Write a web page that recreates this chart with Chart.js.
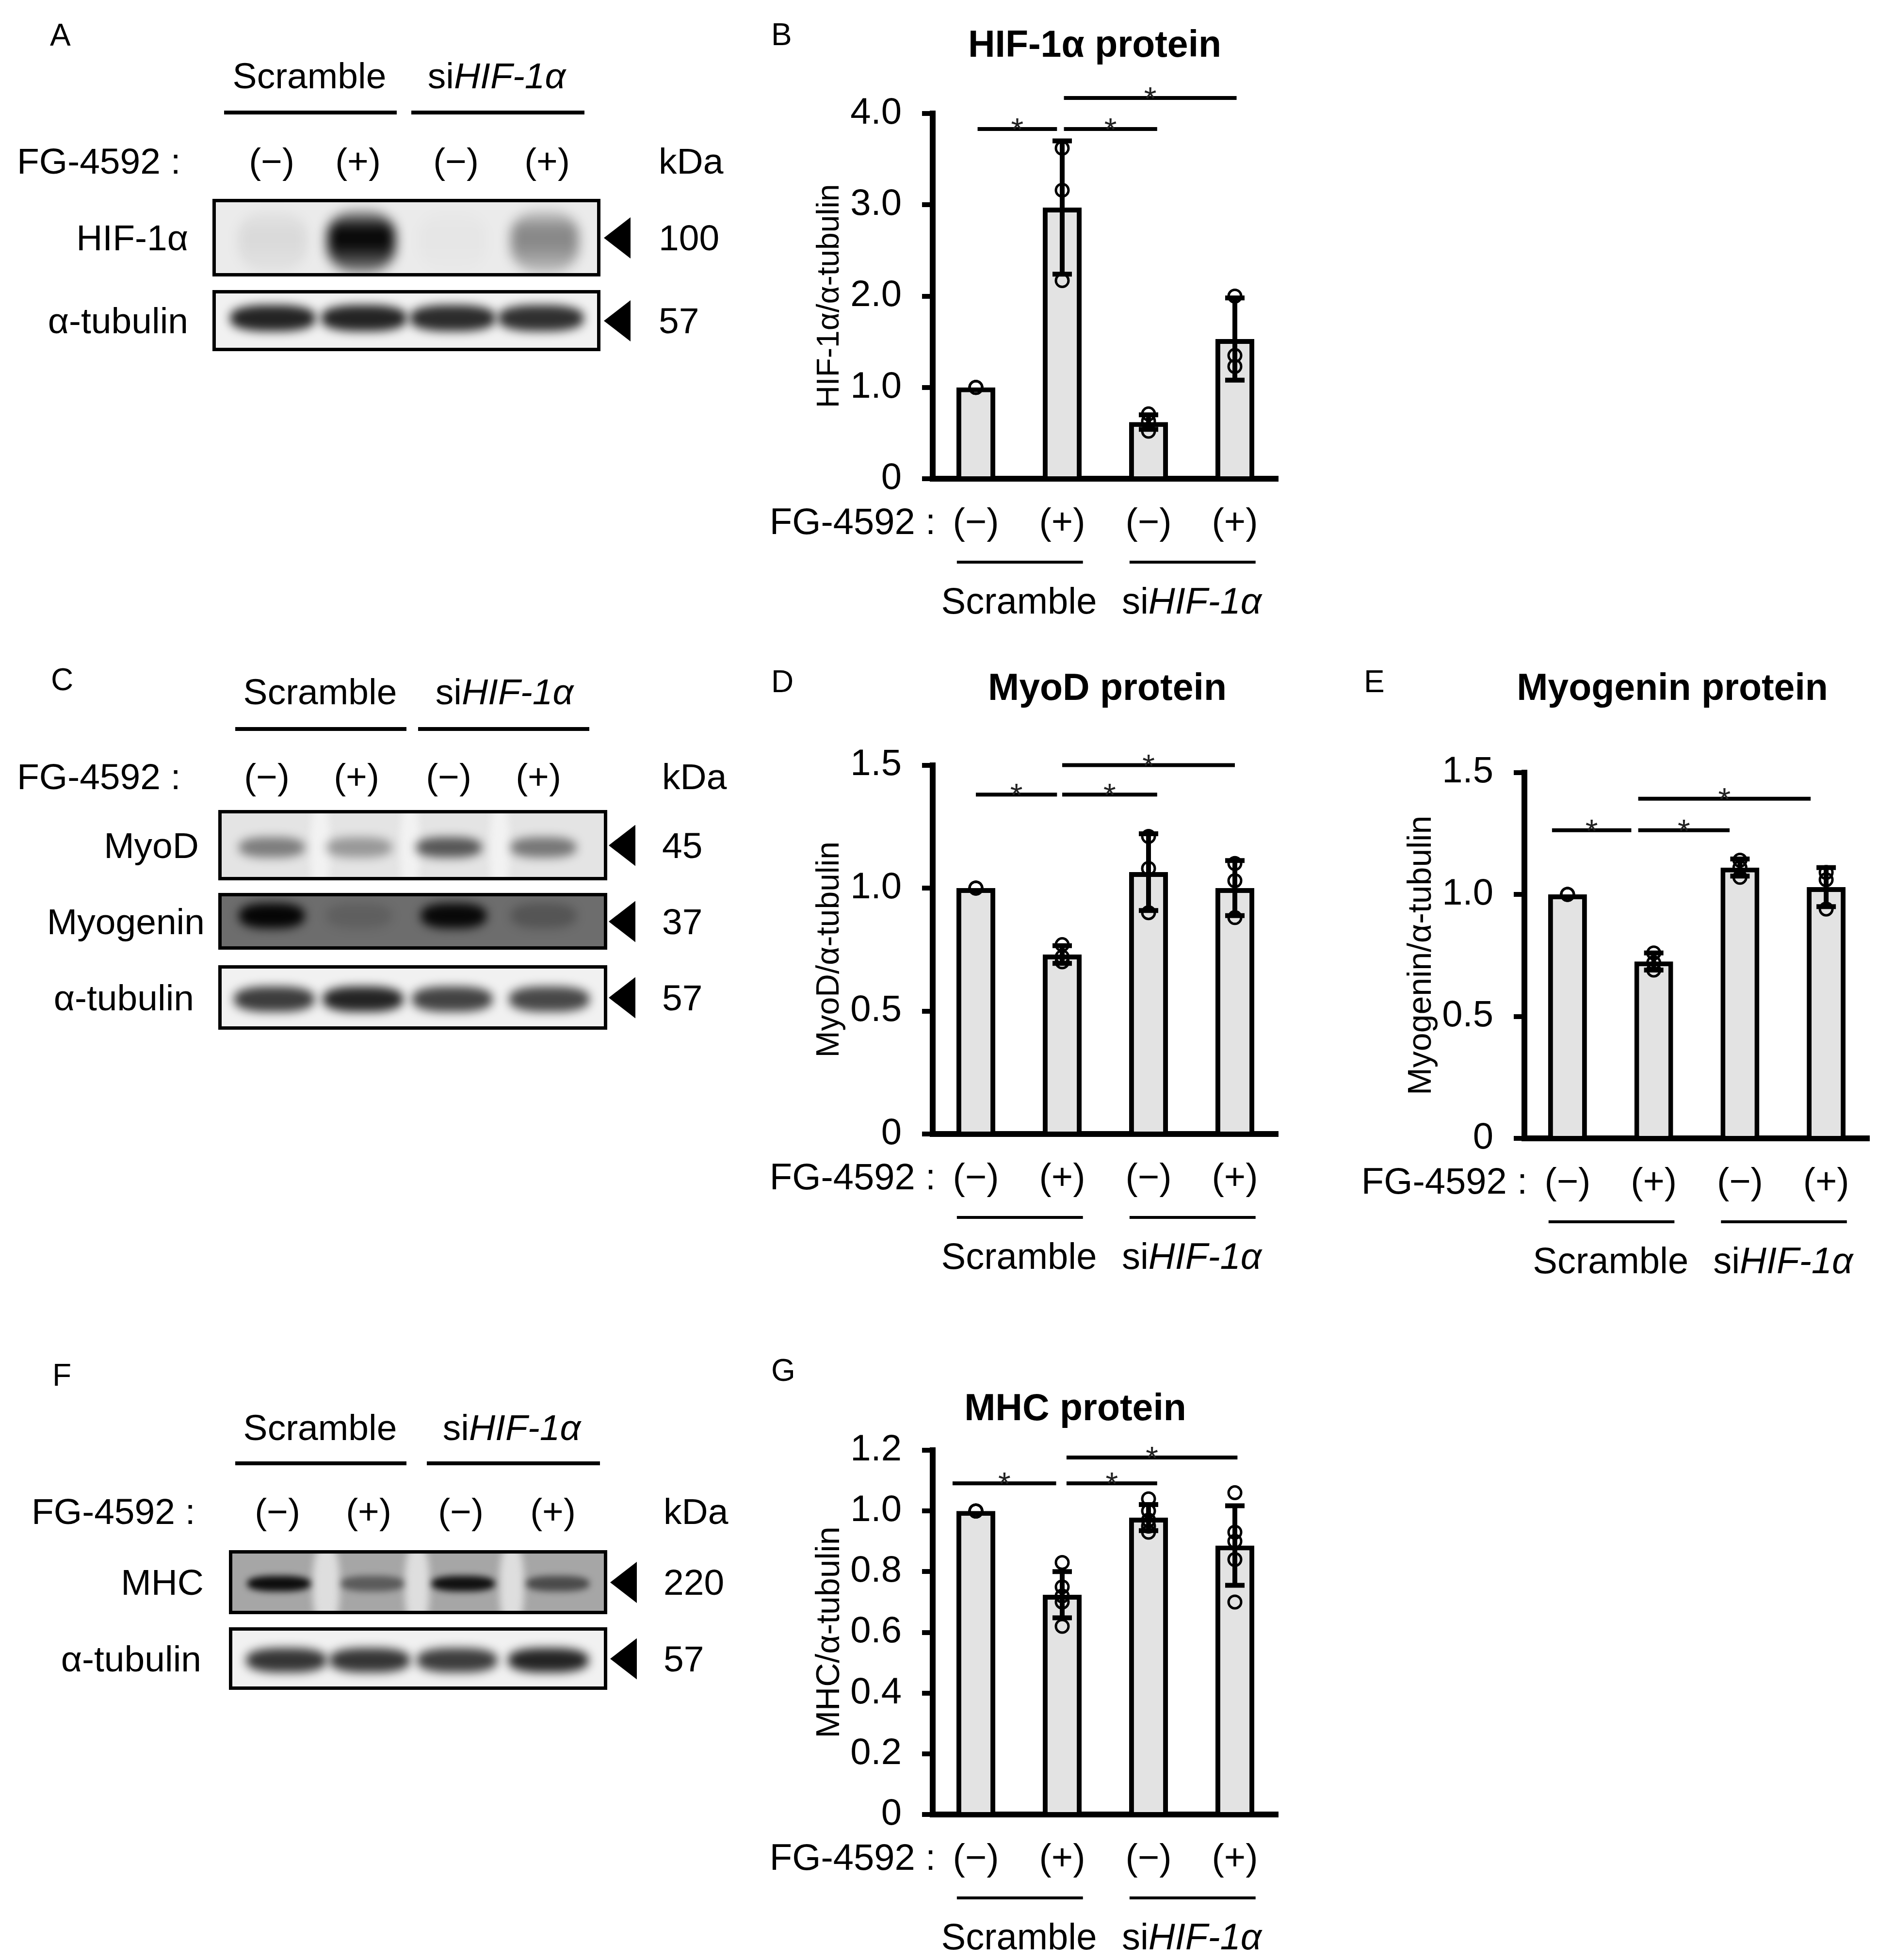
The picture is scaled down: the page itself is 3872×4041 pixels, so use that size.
<!DOCTYPE html>
<html>
<head>
<meta charset="utf-8">
<script src="https://cdn.jsdelivr.net/npm/chart.js@4/dist/chart.umd.min.js"></script>
<style>
body { margin: 0; background: #fff; }
#page { position: relative; width: 3872px; height: 4041px; overflow: hidden; background: #fff;
        font-family: "Liberation Sans", Arial, sans-serif; color: #000; }
.t { position: absolute; white-space: nowrap; line-height: 1; font-size: 75px; }
.box { position: absolute; border: 7px solid #000; box-sizing: border-box; overflow: hidden; }
.band { position: absolute; border-radius: 40%; }
.line { position: absolute; background: #000; }
.arrow { position: absolute; background: #000; clip-path: polygon(0 50%, 100% 0, 100% 100%); }
.chart { position: absolute; }
</style>
</head>
<body>
<div id="page"></div>
<script>
var FONT = '"Liberation Sans", Arial, sans-serif';

// shared labels
var conditions = ['(−)', '(+)', '(−)', '(+)'];
var groups = ['Scramble', 'si<i>HIF-1α</i>'];
var drugLabel = 'FG-4592 :';

// B - HIF-1a / a-tubulin
var hifTicks = [0, 1, 2, 3, 4];
var hifMean = [1.00, 2.97, 0.62, 1.53];
var hifSd = [0, 0.73, 0.08, 0.45];
var hifRep1 = [1.00, 3.62, 0.71, 2.00];
var hifRep2 = [1.00, 3.16, 0.63, 1.35];
var hifRep3 = [1.00, 2.17, 0.52, 1.23];

// D - MyoD / a-tubulin
var myodTicks = [0, 0.5, 1.0, 1.5];
var myodMean = [1.00, 0.73, 1.065, 1.00];
var myodSd = [0, 0.036, 0.156, 0.112];
var myodRep1 = [1.00, 0.77, 1.21, 1.10];
var myodRep2 = [1.00, 0.72, 1.08, 1.03];
var myodRep3 = [1.00, 0.70, 0.90, 0.88];

// E - Myogenin / a-tubulin
var myogTicks = [0, 0.5, 1.0, 1.5];
var myogMean = [1.00, 0.725, 1.11, 1.03];
var myogSd = [0, 0.035, 0.035, 0.08];
var myogRep1 = [1.00, 0.76, 1.14, 1.09];
var myogRep2 = [1.00, 0.72, 1.11, 1.06];
var myogRep3 = [1.00, 0.69, 1.07, 0.94];

// G - MHC / a-tubulin
var mhcTicks = [0, 0.2, 0.4, 0.6, 0.8, 1.0, 1.2];
var mhcMean = [1.00, 0.724, 0.978, 0.886];
var mhcSd = [0, 0.076, 0.043, 0.131];
var mhcRep1 = [1.00, 0.83, 1.04, 1.06];
var mhcRep2 = [1.00, 0.75, 1.00, 0.93];
var mhcRep3 = [1.00, 0.72, 0.97, 0.90];
var mhcRep4 = [1.00, 0.70, 0.95, 0.84];
var mhcRep5 = [1.00, 0.62, 0.93, 0.70];

// western blot band darkness (0 = none, 1 = black)
var hifBlot = [0.07, 0.97, 0.02, 0.42];
var tubABlot = [0.85, 0.85, 0.82, 0.80];
var myodBlot = [0.45, 0.33, 0.62, 0.48];
var myogBlot = [0.95, 0.12, 0.92, 0.22];
var tubCBlot = [0.75, 0.85, 0.72, 0.70];
var mhcBlot = [0.92, 0.45, 0.90, 0.55];
var tubFBlot = [0.78, 0.78, 0.75, 0.85];

Chart.defaults.font.family = FONT;
Chart.defaults.color = '#000';

var page = document.getElementById('page');

function el(cls, css, html) {
    var d = document.createElement('div');
    d.className = cls;
    for (var k in css) d.style[k] = css[k];
    if (html != null) d.innerHTML = html;
    page.appendChild(d);
    return d;
}

function txt(x, y, html, align, size) {
    var tx = align === 'right' ? '-100%' : (align === 'left' ? '0' : '-50%');
    return el('t', {left: x + 'px', top: y + 'px', transform: 'translate(' + tx + ',-50%)', fontSize: (size || 75) + 'px'}, html);
}

// ---------- blots ----------
function blotPanel(p) {
    txt(p.letterPos[0], p.letterPos[1], p.letter, 'left', 64);
    groups.forEach(function(g, k) { txt(p.groupX[k], p.groupY, g); });
    p.lines.forEach(function(l) {
        el('line', {left: l[0] + 'px', top: (p.lineY - 4) + 'px', width: (l[1] - l[0]) + 'px', height: '8px'});
    });
    txt(p.fgX, p.fgY, drugLabel, 'left');
    conditions.forEach(function(c, i) { txt(p.laneX[i], p.fgY, c); });
    txt(p.kdaX, p.fgY, 'kDa', 'left');

    p.rows.forEach(function(r) {
        var cy = (r.y0 + r.y1) / 2;
        txt(r.right, cy, r.label, 'right');
        var box = document.createElement('div');
        box.className = 'box';
        box.style.left = p.x0 + 'px';
        box.style.top = r.y0 + 'px';
        box.style.width = (p.x1 - p.x0) + 'px';
        box.style.height = (r.y1 - r.y0) + 'px';
        box.style.background = r.bg;
        page.appendChild(box);
        (r.strips || []).forEach(function(s) {
            var d = document.createElement('div');
            d.className = 'band';
            d.style.left = (s[0] - p.x0 - 7) + 'px';
            d.style.top = '-20px';
            d.style.width = (s[1] - s[0]) + 'px';
            d.style.height = (r.y1 - r.y0 + 40) + 'px';
            d.style.background = r.stripColor;
            d.style.filter = 'blur(8px)';
            box.appendChild(d);
        });
        r.values.forEach(function(v, i) {
            var d = document.createElement('div');
            d.className = 'band';
            d.style.left = (r.laneC[i] - r.bw / 2 - p.x0 - 7) + 'px';
            d.style.top = (r.by - r.bh / 2 - r.y0 - 7) + 'px';
            d.style.width = r.bw + 'px';
            d.style.height = r.bh + 'px';
            if (r.smear) {
                d.style.background = 'linear-gradient(to bottom, rgba(0,0,0,' + (v * 0.3) + ') 0%, rgba(0,0,0,' + v + ') 30%, rgba(0,0,0,' + v + ') 55%, rgba(0,0,0,' + (v * 0.45) + ') 100%)';
            } else {
                d.style.background = 'rgba(0,0,0,' + v + ')';
            }
            d.style.filter = 'blur(' + (r.blur || 10) + 'px)';
            box.appendChild(d);
        });
        el('arrow', {left: p.arrowX + 'px', top: (cy - 42) + 'px', width: '55px', height: '85px'});
        txt(p.kdaX, cy, r.mw, 'left');
    });
}

blotPanel({
    letter: 'A', letterPos: [103, 72], groupX: [638, 1024], groupY: 156, lineY: 232, lines: [[462, 818], [848, 1205]],
    fgX: 35, fgY: 332, laneX: [560, 738, 940, 1128], kdaX: 1358, x0: 438, x1: 1238, arrowX: 1245,
    rows: [
        {label: 'HIF-1α', right: 388, y0: 410, y1: 570, bg: '#ebebeb', mw: '100', values: hifBlot,
         laneC: [562, 745, 933, 1123], bw: 140, by: 498, bh: 128, smear: true, blur: 12},
        {label: 'α-tubulin', right: 388, y0: 598, y1: 724, bg: '#f1f1f1', mw: '57', values: tubABlot,
         laneC: [562, 750, 933, 1115], bw: 175, by: 656, bh: 54}
    ]
});

blotPanel({
    letter: 'C', letterPos: [105, 1401], groupX: [660, 1040], groupY: 1426, lineY: 1503, lines: [[485, 838], [862, 1215]],
    fgX: 35, fgY: 1601, laneX: [550, 735, 925, 1110], kdaX: 1365, x0: 450, x1: 1252, arrowX: 1255,
    rows: [
        {label: 'MyoD', right: 410, y0: 1670, y1: 1815, bg: '#e4e4e4', mw: '45', values: myodBlot,
         laneC: [560, 740, 925, 1120], bw: 135, by: 1747, bh: 42, strips: [[640, 680], [825, 865], [1010, 1050]], stripColor: '#f2f2f2'},
        {label: 'Myogenin', right: 422, y0: 1841, y1: 1958, bg: '#6d6d6d', mw: '37', values: myogBlot,
         laneC: [560, 740, 935, 1120], bw: 135, by: 1888, bh: 52},
        {label: 'α-tubulin', right: 400, y0: 1990, y1: 2123, bg: '#f1f1f1', mw: '57', values: tubCBlot,
         laneC: [565, 748, 932, 1132], bw: 165, by: 2060, bh: 52}
    ]
});

blotPanel({
    letter: 'F', letterPos: [108, 2835], groupX: [660, 1055], groupY: 2943, lineY: 3017, lines: [[485, 838], [880, 1237]],
    fgX: 65, fgY: 3116, laneX: [572, 760, 950, 1140], kdaX: 1368, x0: 472, x1: 1252, arrowX: 1258,
    rows: [
        {label: 'MHC', right: 420, y0: 3196, y1: 3328, bg: '#a6a6a6', mw: '220', values: mhcBlot,
         laneC: [575, 768, 955, 1150], bw: 130, by: 3265, bh: 32, blur: 7,
         strips: [[645, 700], [835, 885], [1030, 1080]], stripColor: '#dedede'},
        {label: 'α-tubulin', right: 415, y0: 3355, y1: 3484, bg: '#f1f1f1', mw: '57', values: tubFBlot,
         laneC: [590, 762, 942, 1130], bw: 165, by: 3423, bh: 50}
    ]
});

// ---------- bar charts ----------
function drawGroupLabel(ctx, html, cx, cy) {
    var parts = html.split(/<\/?i>/);
    var widths = parts.map(function(s, k) {
        ctx.font = (k % 2 ? 'italic ' : '') + '76px ' + FONT;
        return ctx.measureText(s).width;
    });
    var x = cx - widths.reduce(function(a, b) { return a + b; }, 0) / 2;
    parts.forEach(function(s, k) {
        ctx.font = (k % 2 ? 'italic ' : '') + '76px ' + FONT;
        ctx.textAlign = 'left';
        ctx.fillText(s, x, cy);
        x += widths[k];
    });
}

function statPlugin(cfg) {
    return {
        id: 'stat' + cfg.letter,
        afterDatasetsDraw: function(chart) {
            var ctx = chart.ctx, ys = chart.scales.y;
            var meta = chart.getDatasetMeta(0);
            ctx.save();
            ctx.strokeStyle = '#000';
            ctx.lineWidth = 10;
            cfg.mean.forEach(function(m, i) {
                var sd = cfg.sd[i];
                if (!sd) return;
                var px = meta.data[i].x;
                var y1 = ys.getPixelForValue(m + sd), y2 = ys.getPixelForValue(m - sd);
                ctx.beginPath();
                ctx.moveTo(px, y1); ctx.lineTo(px, y2);
                ctx.moveTo(px - 20, y1); ctx.lineTo(px + 20, y1);
                ctx.moveTo(px - 20, y2); ctx.lineTo(px + 20, y2);
                ctx.stroke();
            });
            ctx.restore();
        },
        afterDraw: function(chart) {
            var ctx = chart.ctx, xs = chart.scales.x, ys = chart.scales.y, a = chart.chartArea;
            var ox = cfg.box[0], oy = cfg.box[1];
            ctx.save();
            ctx.fillStyle = '#000';
            ctx.strokeStyle = '#000';
            ctx.textBaseline = 'middle';

            ctx.font = 'bold 77px ' + FONT;
            ctx.textAlign = 'center';
            ctx.fillText(cfg.title, cfg.titlePos[0] - ox, cfg.titlePos[1] - oy);

            ctx.font = '76px ' + FONT;
            ctx.textAlign = 'right';
            ctx.fillText(drugLabel, a.left + 6, a.bottom + 93);

            ctx.lineWidth = 6;
            [[0, 1], [2, 3]].forEach(function(g, k) {
                var x1 = xs.getPixelForValue(g[0] - 0.22), x2 = xs.getPixelForValue(g[1] + 0.24);
                var ly = a.bottom + 172;
                ctx.beginPath(); ctx.moveTo(x1, ly); ctx.lineTo(x2, ly); ctx.stroke();
                drawGroupLabel(ctx, groups[k], xs.getPixelForValue((g[0] + g[1]) / 2), a.bottom + 257);
            });

            cfg.sig.forEach(function(s) {
                var x1 = xs.getPixelForValue(s[0]), x2 = xs.getPixelForValue(s[1]), y = ys.getPixelForValue(s[2]);
                ctx.lineWidth = 8;
                ctx.beginPath(); ctx.moveTo(x1, y); ctx.lineTo(x2, y); ctx.stroke();
                ctx.font = '66px ' + FONT;
                ctx.textAlign = 'center';
                ctx.textBaseline = 'alphabetic';
                ctx.fillStyle = '#222';
                ctx.fillText('*', (x1 + x2) / 2, y + 24);
                ctx.fillStyle = '#000';
                ctx.textBaseline = 'middle';
            });
            ctx.restore();
        }
    };
}

function makeChart(cfg) {
    var box = cfg.box, area = cfg.area;
    var holder = el('chart', {left: box[0] + 'px', top: box[1] + 'px', width: box[2] + 'px', height: box[3] + 'px'});
    var canvas = document.createElement('canvas');
    holder.appendChild(canvas);
    var yWidth = area[0] - box[0];
    var xHeight = 300;
    var ticks = cfg.ticks;

    var datasets = [{
        type: 'bar', data: cfg.mean, backgroundColor: '#e3e3e3', borderColor: '#000', borderWidth: 10,
        barPercentage: 0.45, categoryPercentage: 1, order: 2
    }];
    cfg.reps.forEach(function(r) {
        datasets.push({
            type: 'line', data: r, showLine: false, pointRadius: 13, pointHoverRadius: 13, pointBorderWidth: 5,
            pointBorderColor: '#000', pointBackgroundColor: 'rgba(0,0,0,0)', order: 1
        });
    });

    return new Chart(canvas, {
        data: {labels: conditions, datasets: datasets},
        options: {
            responsive: true,
            maintainAspectRatio: false,
            animation: false,
            devicePixelRatio: 1,
            events: [],
            layout: {padding: {left: 0, top: area[1] - box[1], right: box[0] + box[2] - area[2],
                               bottom: box[1] + box[3] - area[3] - xHeight}},
            plugins: {legend: {display: false}, tooltip: {enabled: false}},
            scales: {
                x: {
                    offset: true,
                    grid: {display: false, drawTicks: false},
                    border: {display: true, width: 12, color: '#000'},
                    ticks: {font: {size: 76}, color: '#000', padding: 47, maxRotation: 0, autoSkip: false},
                    afterFit: function(s) { s.height = xHeight; }
                },
                y: {
                    min: ticks[0],
                    max: ticks[ticks.length - 1],
                    grid: {display: true, drawOnChartArea: false, drawTicks: true, tickLength: 22, lineWidth: 10, color: '#000'},
                    border: {display: true, width: 12, color: '#000'},
                    ticks: {
                        font: {size: 76}, color: '#000', padding: 42,
                        callback: function(v) { return v === 0 ? '0' : v.toFixed(1); }
                    },
                    afterBuildTicks: function(s) { s.ticks = ticks.map(function(v) { return {value: v}; }); },
                    afterFit: function(s) { s.width = yWidth; },
                    title: {
                        display: true, text: cfg.yTitle, color: '#000', font: {size: cfg.yTitleSize},
                        padding: {top: yWidth - 212 - 0.6 * cfg.yTitleSize, bottom: 0}
                    }
                }
            }
        },
        plugins: [statPlugin(cfg)]
    });
}

txt(1590, 71, 'B', 'left', 64);
txt(1590, 1405, 'D', 'left', 64);
txt(2812, 1405, 'E', 'left', 64);
txt(1590, 2825, 'G', 'left', 64);

makeChart({
    letter: 'B', title: 'HIF-1α protein', titlePos: [2257, 96], yTitle: 'HIF-1α/α-tubulin', yTitleSize: 64,
    box: [1560, 0, 1140, 1339], area: [1923, 234, 2635, 987],
    ticks: hifTicks, mean: hifMean, sd: hifSd, reps: [hifRep1, hifRep2, hifRep3],
    sig: [[0.02, 0.94, 3.83], [1.02, 2.1, 3.83], [1.02, 3.02, 4.17]]
});

makeChart({
    letter: 'D', title: 'MyoD protein', titlePos: [2283, 1422], yTitle: 'MyoD/α-tubulin', yTitleSize: 66,
    box: [1560, 1330, 1140, 1330], area: [1923, 1577.5, 2635, 2338],
    ticks: myodTicks, mean: myodMean, sd: myodSd, reps: [myodRep1, myodRep2, myodRep3],
    sig: [[0, 0.94, 1.38], [1.0, 2.1, 1.38], [1.0, 3.0, 1.50]]
});

makeChart({
    letter: 'E', title: 'Myogenin protein', titlePos: [3448, 1422], yTitle: 'Myogenin/α-tubulin', yTitleSize: 68,
    box: [2778, 1330, 1094, 1330], area: [3143, 1592.5, 3854, 2347],
    ticks: myogTicks, mean: myogMean, sd: myogSd, reps: [myogRep1, myogRep2, myogRep3],
    sig: [[-0.18, 0.74, 1.263], [0.82, 1.88, 1.263], [0.82, 2.82, 1.392]]
});

makeChart({
    letter: 'G', title: 'MHC protein', titlePos: [2217, 2907], yTitle: 'MHC/α-tubulin', yTitleSize: 68,
    box: [1560, 2750, 1140, 1291], area: [1923, 2990, 2635, 3741],
    ticks: mhcTicks, mean: mhcMean, sd: mhcSd, reps: [mhcRep1, mhcRep2, mhcRep3, mhcRep4, mhcRep5],
    sig: [[-0.27, 0.93, 1.091], [1.05, 2.1, 1.091], [1.05, 3.03, 1.176]]
});
</script>
</body>
</html>
